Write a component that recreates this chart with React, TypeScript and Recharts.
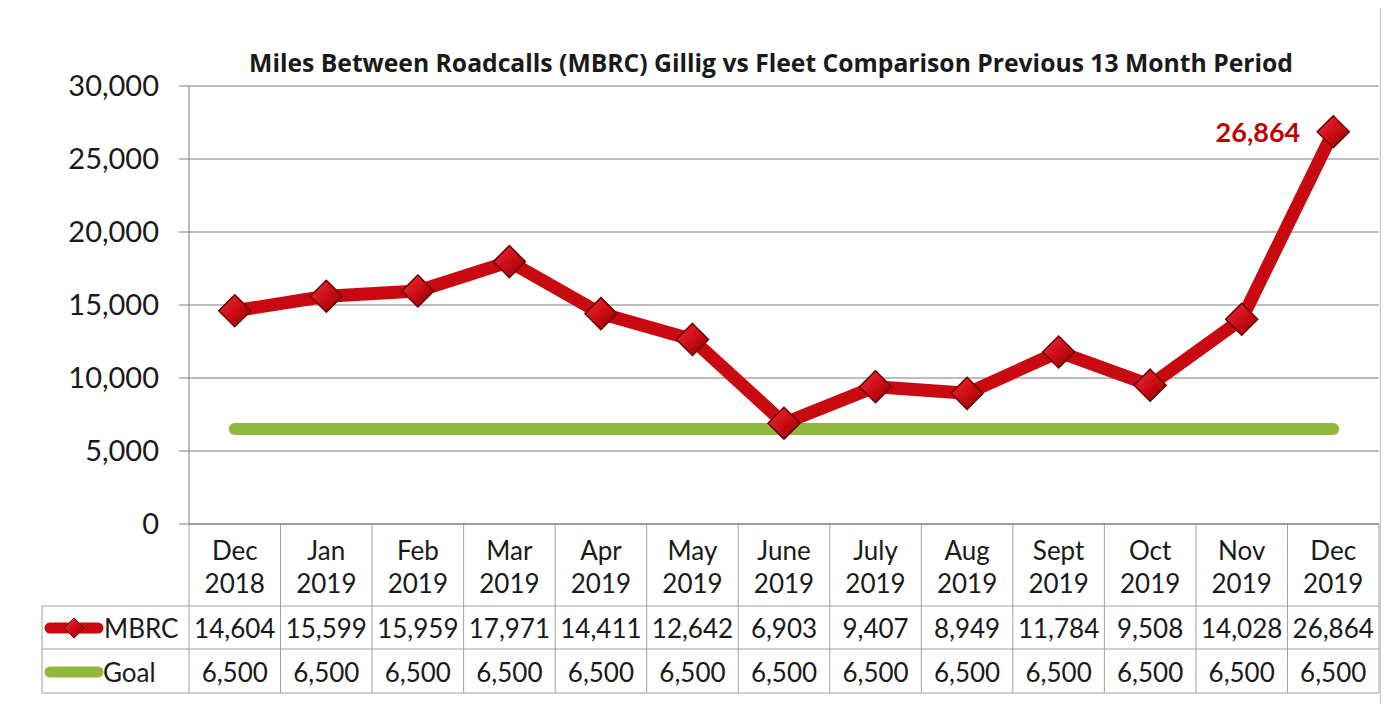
import { CartesianGrid, Line, LineChart, XAxis, YAxis } from 'recharts'

const months = ['Dec', 'Jan', 'Feb', 'Mar', 'Apr', 'May', 'June', 'July', 'Aug', 'Sept', 'Oct', 'Nov', 'Dec']
const years = ['2018', '2019', '2019', '2019', '2019', '2019', '2019', '2019', '2019', '2019', '2019', '2019', '2019']
const mbrc = [14604, 15599, 15959, 17971, 14411, 12642, 6903, 9407, 8949, 11784, 9508, 14028, 26864]
const goal = [6500, 6500, 6500, 6500, 6500, 6500, 6500, 6500, 6500, 6500, 6500, 6500, 6500]
const yTicks = [0, 5000, 10000, 15000, 20000, 25000, 30000]
const title = 'Miles Between Roadcalls (MBRC) Gillig vs Fleet Comparison Previous 13 Month Period'

const data = months.map((m, i) => ({
  label: `${m} ${years[i]}`,
  month: m,
  year: years[i],
  mbrc: mbrc[i],
  goal: goal[i],
}))

const FONT = 'Lato, "Open Sans", sans-serif'
const TEXT = '#1a1a1a'
const RED = '#c8090f'
const GREEN = '#8fb83e'
const GRID = '#7c7c7c'
const TABLE_LINE = '#a0a0a0'

const CHART_W = 1372
const CHART_H = 698
const PLOT_LEFT = 181
const PLOT_RIGHT = 1371
const COL_W = (PLOT_RIGHT - PLOT_LEFT) / months.length
const fmt = (v: number) => v.toLocaleString('en-US')

function diamond(cx: number, cy: number, r: number) {
  return `${cx},${cy - r} ${cx + r},${cy} ${cx},${cy + r} ${cx - r},${cy}`
}

function DiamondDot(props: any) {
  const { cx, cy, index } = props
  if (cx == null || cy == null) return null
  return (
    <polygon
      key={`dot-${index}`}
      points={diamond(cx, cy, 16)}
      fill="url(#diaFill)"
      stroke="#6a0000"
      strokeWidth={1.5}
    />
  )
}

// x axis tick draws the data table column under each month
function TableTick(props: any) {
  const { x, y, index } = props
  const d = data[index]
  if (!d) return null
  const left = x - COL_W / 2
  const right = x + COL_W / 2
  const cellText = { fontFamily: FONT, fontSize: 26, fill: TEXT, textAnchor: 'middle' as const, dominantBaseline: 'central' as const }
  const plotLeft = left
  const legendLeft = plotLeft - 147
  return (
    <g>
      <line x1={left} x2={left} y1={y} y2={y + 169} stroke={TABLE_LINE} />
      {index === months.length - 1 && <line x1={right} x2={right} y1={y} y2={y + 169} stroke={TABLE_LINE} />}
      <line x1={left} x2={right} y1={y + 82} y2={y + 82} stroke={TABLE_LINE} />
      <line x1={left} x2={right} y1={y + 125} y2={y + 125} stroke={TABLE_LINE} />
      <line x1={left} x2={right} y1={y + 169} y2={y + 169} stroke={TABLE_LINE} />
      <text x={x} y={y + 26} {...cellText}>{d.month}</text>
      <text x={x} y={y + 59} {...cellText}>{d.year}</text>
      <text x={x} y={y + 104} {...cellText}>{fmt(d.mbrc)}</text>
      <text x={x} y={y + 148} {...cellText}>{fmt(d.goal)}</text>
      {index === 0 && (
        <g>
          <line x1={legendLeft} x2={legendLeft} y1={y + 82} y2={y + 169} stroke={TABLE_LINE} />
          <line x1={legendLeft} x2={plotLeft} y1={y + 82} y2={y + 82} stroke={TABLE_LINE} />
          <line x1={legendLeft} x2={plotLeft} y1={y + 125} y2={y + 125} stroke={TABLE_LINE} />
          <line x1={legendLeft} x2={plotLeft} y1={y + 169} y2={y + 169} stroke={TABLE_LINE} />
          <line x1={legendLeft + 8} x2={legendLeft + 56} y1={y + 104} y2={y + 104} stroke={RED} strokeWidth={11} strokeLinecap="round" />
          <polygon points={diamond(legendLeft + 32, y + 104, 10)} fill="url(#diaFill)" stroke="#6a0000" strokeWidth={1} />
          <line x1={legendLeft + 8} x2={legendLeft + 56} y1={y + 148} y2={y + 148} stroke={GREEN} strokeWidth={11} strokeLinecap="round" />
          <text x={legendLeft + 62} y={y + 104} {...cellText} textAnchor="start">MBRC</text>
          <text x={legendLeft + 61} y={y + 148} {...cellText} textAnchor="start">Goal</text>
        </g>
      )}
    </g>
  )
}

function LastLabel(props: any) {
  const { x, y, index } = props
  if (index !== mbrc.length - 1) return null
  return (
    <text
      x={x - 33}
      y={y}
      textAnchor="end"
      dominantBaseline="central"
      fontFamily={FONT}
      fontWeight={700}
      fontSize={27}
      fill="#c00000"
    >
      {fmt(mbrc[index])}
    </text>
  )
}

export default function App() {
  return (
    <div
      style={{
        position: 'relative',
        width: 1374,
        height: 700,
        marginTop: -1,
        marginLeft: -1,
        border: '1px solid #c4c4c4',
        boxSizing: 'border-box',
        background: '#fff',
        fontFamily: FONT,
      }}
    >
      <div
        style={{
          position: 'absolute',
          top: 40,
          left: 763,
          transform: 'translateX(-50%)',
          whiteSpace: 'nowrap',
          fontFamily: '"Open Sans", sans-serif',
          fontWeight: 700,
          fontSize: 24.7,
          lineHeight: '30px',
          color: TEXT,
        }}
      >
        {title}
      </div>
      <LineChart width={CHART_W} height={CHART_H} data={data} margin={{ top: 78, right: CHART_W - PLOT_RIGHT, left: 0, bottom: 0 }}>
        <defs>
          <linearGradient id="diaFill" x1="0" y1="0" x2="1" y2="1">
            <stop offset="0%" stopColor="#f0303a" />
            <stop offset="55%" stopColor="#c80a12" />
            <stop offset="100%" stopColor="#8a0006" />
          </linearGradient>
        </defs>
        <CartesianGrid vertical={false} stroke={GRID} />
        <XAxis
          dataKey="label"
          scale="band"
          interval={0}
          height={182}
          tickSize={0}
          tickMargin={0}
          tickLine={false}
          axisLine={{ stroke: GRID }}
          tick={<TableTick />}
        />
        <YAxis
          width={PLOT_LEFT}
          domain={[0, 30000]}
          ticks={yTicks}
          tickFormatter={fmt}
          tickSize={10}
          tickMargin={20}
          axisLine={{ stroke: GRID }}
          tickLine={{ stroke: GRID }}
          tick={{ fill: TEXT, fontSize: 29, fontFamily: FONT }}
        />
        <Line
          dataKey="mbrc"
          type="linear"
          stroke={RED}
          strokeWidth={13}
          strokeLinejoin="round"
          dot={(p: any) => <DiamondDot key={`d-${p.index}`} {...p} />}
          activeDot={false}
          label={(p: any) => <LastLabel key={`l-${p.index}`} {...p} />}
          isAnimationActive={false}
        />
        <Line
          dataKey="goal"
          type="linear"
          stroke={GREEN}
          strokeWidth={12}
          strokeLinecap="round"
          dot={false}
          activeDot={false}
          isAnimationActive={false}
        />
      </LineChart>
    </div>
  )
}
